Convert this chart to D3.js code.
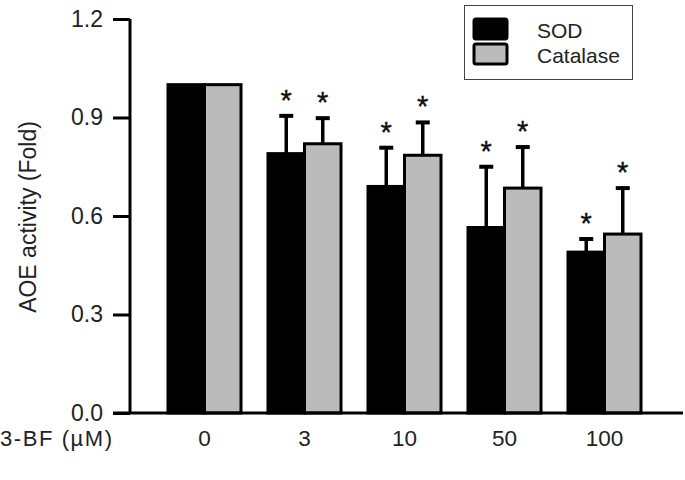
<!DOCTYPE html>
<html>
<head>
<meta charset="utf-8">
<script src="https://cdn.jsdelivr.net/npm/d3@7"></script>
<style>
  html, body { margin: 0; padding: 0; background: #fff; }
  svg { display: block; font-family: "Liberation Sans", Arial, sans-serif; }
</style>
</head>
<body>
<svg id="chart" width="685" height="480"></svg>
<script>
const categories = ["0", "3", "10", "50", "100"];
const seriesNames = ["SOD", "Catalase"];
const sodValues = [1.0, 0.79, 0.69, 0.565, 0.49];
const sodErrors = [0, 0.115, 0.118, 0.185, 0.04];
const catValues = [1.0, 0.82, 0.785, 0.685, 0.545];
const catErrors = [0, 0.078, 0.1, 0.125, 0.14];
const sodSig = [false, true, true, true, true];
const catSig = [false, true, true, true, true];
const yTicks = [0.0, 0.3, 0.6, 0.9, 1.2];
const xAxisTitle = "3-BF (\u00b5M)";
const yAxisTitle = "AOE activity (Fold)";

const colors = ["#000000", "#bbbbbb"];
const series = [
  { name: seriesNames[0], values: sodValues, errors: sodErrors, sig: sodSig, color: colors[0] },
  { name: seriesNames[1], values: catValues, errors: catErrors, sig: catSig, color: colors[1] }
];

const FS = 21;
const svg = d3.select("#chart");
const axisX = 130, baseY = 413, topY = 19;

const y = d3.scaleLinear().domain([0, 1.2]).range([baseY, topY]);
const x0 = d3.scaleBand().domain(categories).range([168, 641]).paddingInner(0.27).paddingOuter(0);
const x1 = d3.scaleBand().domain(seriesNames).range([0, x0.bandwidth()]).padding(0);

// Bars
const groups = svg.append("g").selectAll("g").data(categories).join("g")
  .attr("transform", d => `translate(${x0(d)},0)`);

series.forEach(s => {
  groups.append("rect")
    .attr("x", (d) => x1(s.name))
    .attr("y", (d, i) => y(s.values[i]))
    .attr("width", x1.bandwidth())
    .attr("height", (d, i) => baseY - y(s.values[i]))
    .attr("fill", s.color)
    .attr("stroke", "#000")
    .attr("stroke-width", 3);
});

// Error bars and asterisks
series.forEach(s => {
  groups.each(function(d, i) {
    if (s.errors[i] <= 0) return;
    const g = d3.select(this);
    const cx = x1(s.name) + x1.bandwidth() / 2;
    const yTop = y(s.values[i] + s.errors[i]);
    g.append("line").attr("x1", cx).attr("x2", cx)
      .attr("y1", y(s.values[i])).attr("y2", yTop)
      .attr("stroke", "#000").attr("stroke-width", 3.5);
    g.append("line").attr("x1", cx - 7).attr("x2", cx + 7)
      .attr("y1", yTop).attr("y2", yTop)
      .attr("stroke", "#000").attr("stroke-width", 4);
    if (s.sig[i]) {
      g.append("text").attr("x", cx).attr("y", yTop - 6)
        .attr("text-anchor", "middle").attr("font-size", 29)
        .attr("fill", "#111").attr("stroke", "#111").attr("stroke-width", 0.4).text("*");
    }
  });
});

// Y axis
const yAxis = d3.axisLeft(y).tickValues(yTicks).tickFormat(d3.format(".1f")).tickSize(17).tickPadding(10);
const yg = svg.append("g").attr("transform", `translate(${axisX},0)`).call(yAxis);
yg.select(".domain").remove();
yg.selectAll(".tick line").attr("stroke", "#000").attr("stroke-width", 3);
yg.selectAll(".tick text").attr("font-size", 23).attr("fill", "#222")
  .attr("font-family", "'Liberation Sans', Arial, sans-serif");
svg.append("line").attr("x1", axisX).attr("x2", axisX).attr("y1", topY).attr("y2", baseY)
  .attr("stroke", "#000").attr("stroke-width", 3);

// X axis baseline
svg.append("line").attr("x1", 113).attr("x2", 683).attr("y1", baseY).attr("y2", baseY)
  .attr("stroke", "#000").attr("stroke-width", 3);

// Category labels
const xAxis = d3.axisBottom(x0).tickSize(0).tickPadding(0);
const xg = svg.append("g").attr("transform", `translate(0,${baseY + 17})`).call(xAxis);
xg.select(".domain").remove();
xg.selectAll(".tick text").attr("font-size", 22.5).attr("fill", "#222")
  .attr("dy", "0.71em")
  .attr("font-family", "'Liberation Sans', Arial, sans-serif");

// X title
svg.append("text").attr("x", 0).attr("y", 446)
  .attr("font-size", 22).attr("fill", "#222")
  .attr("textLength", 112).attr("lengthAdjust", "spacing").text(xAxisTitle);

// Y title
svg.append("text").attr("transform", `translate(36,217) rotate(-90)`)
  .attr("text-anchor", "middle").attr("font-size", 23).attr("fill", "#222").text(yAxisTitle);

// Legend
const lg = svg.append("g");
lg.append("rect").attr("x", 464.5).attr("y", 5.5).attr("width", 168).attr("height", 74)
  .attr("fill", "#fff").attr("stroke", "#444").attr("stroke-width", 1);
series.forEach((s, i) => {
  const yy = 19 + i * 25;
  lg.append("rect").attr("x", 474).attr("y", yy).attr("width", 33).attr("height", 20)
    .attr("rx", 2).attr("fill", s.color).attr("stroke", "#000").attr("stroke-width", 3);
  lg.append("text").attr("x", 537).attr("y", yy + 18.5).attr("font-size", FS)
    .attr("fill", "#222").text(s.name);
});
</script>
</body>
</html>
